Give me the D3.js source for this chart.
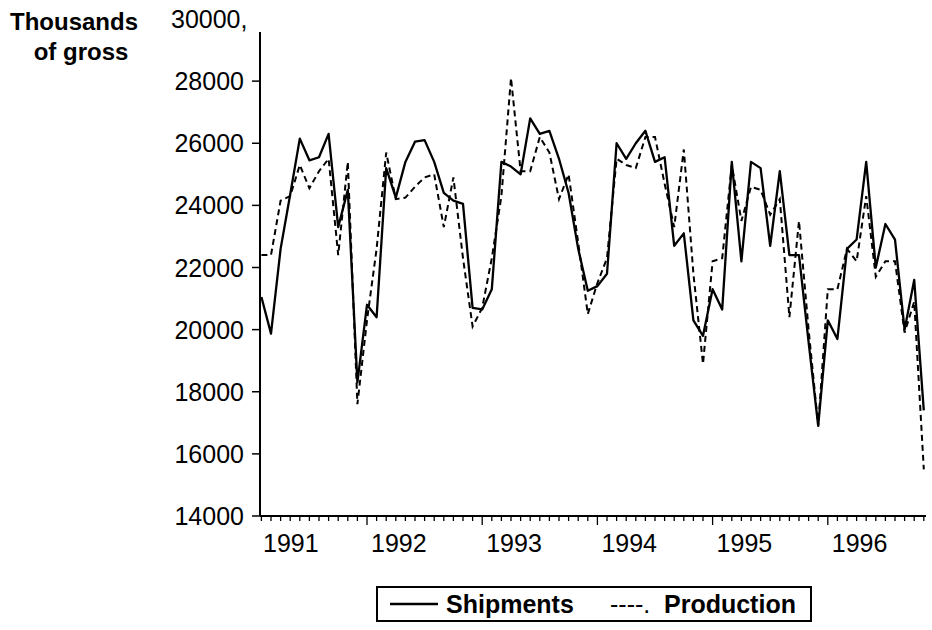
<!DOCTYPE html>
<html>
<head>
<meta charset="utf-8">
<script src="https://cdn.jsdelivr.net/npm/d3@7"></script>
<style>
  body { margin: 0; background: #fff; }
  svg { display: block; font-family: "Liberation Sans", Arial, sans-serif; }
</style>
</head>
<body>
<div id="chart"></div>
<script>
// monthly series, Feb 1991 .. Nov 1996 (thousands of gross)
var shipments = [
  21050, 19870, 22600, 24350, 26150, 25450, 25550, 26300, 23300, 24500, 18300,
  20800, 20400, 25200, 24250, 25400, 26050, 26100, 25400, 24400, 24150, 24050, 20700,
  20650, 21300, 25400, 25250, 25000, 26800, 26300, 26400, 25500, 24400, 22600, 21250,
  21400, 21800, 26000, 25500, 26000, 26400, 25400, 25550, 22700, 23100, 20300, 19800,
  21300, 20650, 25400, 22200, 25400, 25200, 22700, 25100, 22400, 22400, 19600, 16900,
  20300, 19700, 22600, 22900, 25400, 22000, 23400, 22900, 20000, 21600, 17400
];
var production = [
  22400, 22400, 24150, 24300, 25300, 24550, 25100, 25500, 22400, 25400, 17600,
  20300, 22600, 25700, 24200, 24250, 24600, 24900, 25000, 23300, 24900, 22300, 20100,
  20700, 22300, 24300, 28100, 25100, 25100, 26200, 25700, 24200, 25000, 22800, 20500,
  21500, 22300, 25500, 25300, 25200, 26200, 26200, 24700, 23300, 25800, 21800, 18900,
  22200, 22300, 25300, 23500, 24600, 24500, 23700, 24200, 20400, 23500, 20000, 16900,
  21300, 21300, 22600, 22200, 24300, 21700, 22200, 22200, 19900, 20900, 15500
];
var firstMonth = 1;   // months after Jan 1991
var years = [1991, 1992, 1993, 1994, 1995, 1996];
var yTicks = [14000, 16000, 18000, 20000, 22000, 24000, 26000, 28000];

var width = 932, height = 630;
var svg = d3.select("#chart").append("svg")
  .attr("width", width)
  .attr("height", height);

// month index -> pixels, value -> pixels
var x = d3.scaleLinear().domain([0, 72]).range([251.8, 251.8 + 72 * 9.6]);
var y = d3.scaleLinear().domain([14000, 30000]).range([516, 19]);

var axisLeftX = 260, axisRightX = 926;

// y axis
var yAxis = svg.append("g").attr("id", "yaxis");
yAxis.append("line")
  .attr("x1", axisLeftX).attr("x2", axisLeftX)
  .attr("y1", 32).attr("y2", y(14000))
  .attr("stroke", "#000").attr("stroke-width", 2);
yAxis.selectAll("line.tick")
  .data(yTicks)
  .enter()
  .append("line")
  .attr("class", "tick")
  .attr("x1", axisLeftX - 8).attr("x2", axisLeftX)
  .attr("y1", function(d){ return y(d); })
  .attr("y2", function(d){ return y(d); })
  .attr("stroke", "#000").attr("stroke-width", 1.5);
yAxis.selectAll("text.tl")
  .data(yTicks)
  .enter()
  .append("text")
  .attr("class", "tl")
  .attr("x", 244)
  .attr("y", function(d){ return y(d) + 9; })
  .attr("text-anchor", "end")
  .style("font-size", "25px")
  .text(function(d){ return d; });
yAxis.append("text")
  .attr("x", 171)
  .attr("y", y(30000) + 9)
  .style("font-size", "25px")
  .text("30000,");

// x axis
var months = d3.range(firstMonth, firstMonth + shipments.length);
var xAxis = svg.append("g").attr("id", "xaxis");
xAxis.append("line")
  .attr("x1", axisLeftX).attr("x2", axisRightX)
  .attr("y1", y(14000)).attr("y2", y(14000))
  .attr("stroke", "#000").attr("stroke-width", 2);
xAxis.selectAll("line.mt")
  .data(months)
  .enter()
  .append("line")
  .attr("class", "mt")
  .attr("x1", function(d){ return x(d); })
  .attr("x2", function(d){ return x(d); })
  .attr("y1", y(14000))
  .attr("y2", function(d){ return y(14000) + (d % 12 == 0 ? 9 : 5); })
  .attr("stroke", "#000").attr("stroke-width", 1.3);
xAxis.selectAll("text.yl")
  .data(years)
  .enter()
  .append("text")
  .attr("class", "yl")
  .attr("x", function(d, i){ return i == 0 ? 263 : x((d - 1991) * 12) + 4; })
  .attr("y", 552)
  .style("font-size", "25px")
  .text(function(d){ return d; });

// series
var line = d3.line()
  .x(function(d, i){ return x(firstMonth + i); })
  .y(function(d){ return y(d); });

svg.append("path")
  .datum(production)
  .attr("d", line)
  .attr("fill", "none")
  .attr("stroke", "#000")
  .attr("stroke-width", 2)
  .attr("stroke-dasharray", "6,4");

svg.append("path")
  .datum(shipments)
  .attr("d", line)
  .attr("fill", "none")
  .attr("stroke", "#000")
  .attr("stroke-width", 2.3)
  .attr("stroke-linejoin", "round");

// unit label
svg.append("text")
  .attr("x", 10).attr("y", 30)
  .style("font-size", "24px").style("font-weight", "bold")
  .text("Thousands");
svg.append("text")
  .attr("x", 81).attr("y", 60)
  .attr("text-anchor", "middle")
  .style("font-size", "24px").style("font-weight", "bold")
  .text("of gross");

// legend
var legend = svg.append("g").attr("id", "legend");
legend.append("rect")
  .attr("x", 377).attr("y", 587)
  .attr("width", 434).attr("height", 34)
  .attr("fill", "none").attr("stroke", "#000").attr("stroke-width", 2);
legend.append("line")
  .attr("x1", 390).attr("x2", 438)
  .attr("y1", 604).attr("y2", 604)
  .attr("stroke", "#000").attr("stroke-width", 2.5);
legend.append("text")
  .attr("x", 446).attr("y", 613)
  .style("font-size", "25px").style("font-weight", "bold")
  .text("Shipments");
legend.append("text")
  .attr("x", 610).attr("y", 613)
  .style("font-size", "25px").style("font-weight", "normal")
  .text("----.");
legend.append("text")
  .attr("x", 664).attr("y", 613)
  .style("font-size", "25px").style("font-weight", "bold")
  .text("Production");
</script>
</body>
</html>
